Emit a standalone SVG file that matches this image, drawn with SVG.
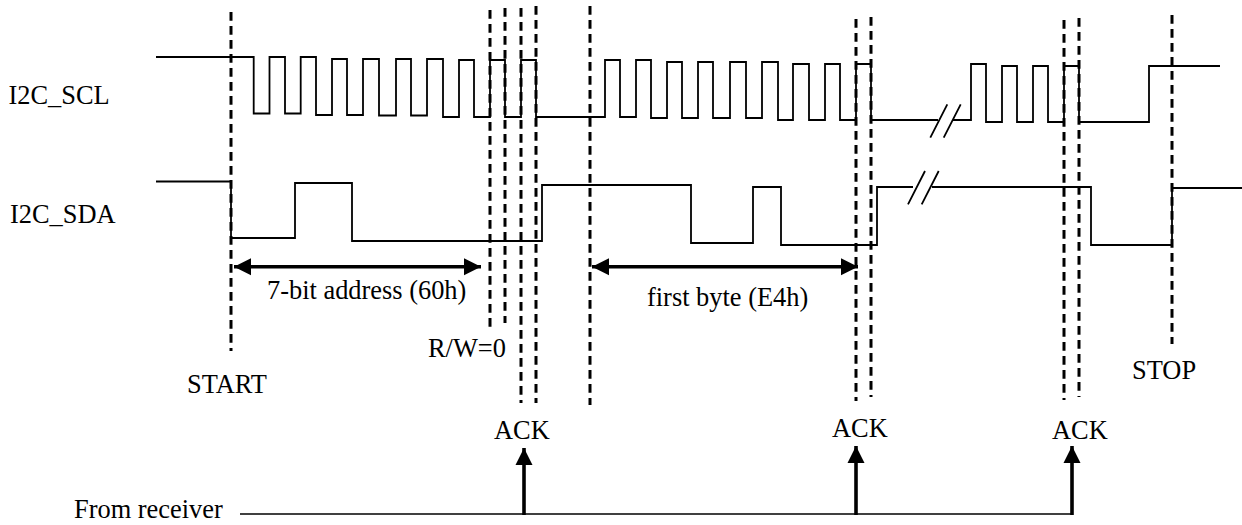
<svg xmlns="http://www.w3.org/2000/svg" width="1242" height="525" viewBox="0 0 1242 525">
<style>
text{font-family:"Liberation Serif","Times New Roman",serif;font-size:26.4px;fill:#000}
.sig{fill:none;stroke:#000;stroke-width:1.8}
.dash{fill:none;stroke:#000;stroke-width:3;stroke-dasharray:8.7 5.3}
.thick{fill:none;stroke:#000;stroke-width:3.6}
.thin{fill:none;stroke:#000;stroke-width:1.6}
</style>
<defs>
<marker id="head" markerUnits="userSpaceOnUse" markerWidth="18" markerHeight="18" refX="17" refY="9" orient="auto-start-reverse" viewBox="0 0 18 18"><path d="M0 0.5L17 9L0 17.5Z" fill="#000"/></marker>
</defs>
<rect width="1242" height="525" fill="#fff"/>
<g id="scl-signal">
<path class="sig" d="M156 57H253.7V113.5H269.5V57H285V113.5H300.7V57H316V115H332V59H347V115H363V59H379V115.500H396V59H411V115.500H427V59H443V117H459V60H474V117H490V60H505V117H521V60H536V117H605V60H620V117H636V60H651V118H667V62H682V118H698V62H713V118H730V62H746V118H762V62H778V120H793V64H809V120H825V64H840V120H856V64H871V120H938M953 120H971V64H986V122H1002V66H1017V122H1033V66H1048V122H1064V66H1079V122H1149V66H1220"/>
<path class="sig" d="M930.300 137.700L947.300 104.300M943.700 137.700L960.700 104.300"/>
</g>
<g id="sda-signal">
<path class="sig" d="M156 181.500H231V238H295V183H352V241H542V185H691V243H753V187H781V245H877V187H913M932 187H1091V245H1172V188H1242"/>
<path class="sig" d="M908 204.300L925 171M921.700 204.300L938.700 171"/>
</g>
<g id="markers">
<path class="dash" d="M231 12V351"/>
<path class="dash" d="M490 10V332"/>
<path class="dash" d="M505 8V323"/>
<path class="dash" d="M521 8V403"/>
<path class="dash" d="M536 6V403"/>
<path class="dash" d="M590 6V405"/>
<path class="dash" d="M856 19V401"/>
<path class="dash" d="M871 17V397"/>
<path class="dash" d="M1064 20V400"/>
<path class="dash" d="M1079 18V397"/>
<path class="dash" d="M1172 15V344"/>
</g>
<g id="connectors">
<path class="thick" d="M234 266.700H481" marker-start="url(#head)" marker-end="url(#head)"/>
<path class="thick" d="M592 266.700H858" marker-start="url(#head)" marker-end="url(#head)"/>
<path class="thin" d="M240 514H1072"/>
<path class="thick" d="M524 515V448" marker-end="url(#head)"/>
<path class="thick" d="M856 515V446" marker-end="url(#head)"/>
<path class="thick" d="M1072 515V446" marker-end="url(#head)"/>
</g>
<g id="labels">
<text x="8.500" y="104">I2C_SCL</text>
<text x="10" y="223">I2C_SDA</text>
<text x="267" y="299">7-bit address (60h)</text>
<text x="647" y="306">first byte (E4h)</text>
<text x="428" y="357">R/W=0</text>
<text x="187" y="393">START</text>
<text x="1132" y="379">STOP</text>
<text x="494" y="439">ACK</text>
<text x="832" y="437">ACK</text>
<text x="1052" y="439">ACK</text>
<text x="74" y="518">From receiver</text>
</g>
</svg>
